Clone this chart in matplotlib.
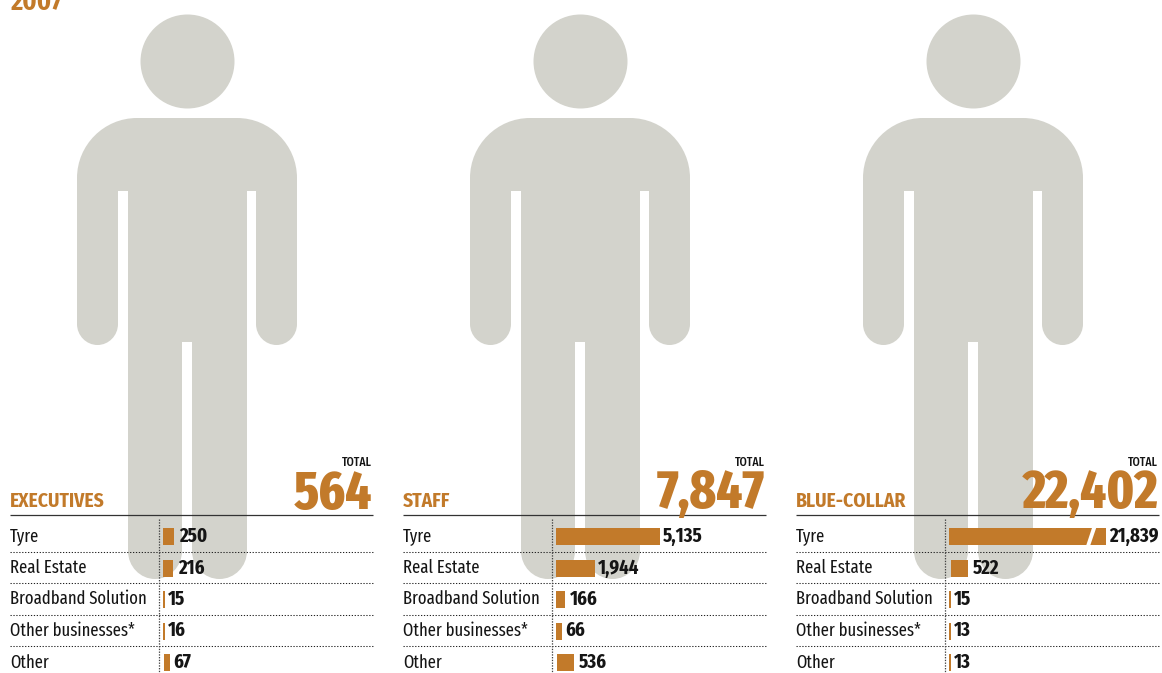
"""Workforce by business line, 2007: three silhouettes with row bars below."""

from __future__ import annotations

import logging

import matplotlib

matplotlib.use("Agg")

import matplotlib.pyplot as plt
import numpy as np
from matplotlib.patches import Circle, PathPatch, Polygon
from matplotlib.path import Path
from matplotlib.transforms import ScaledTranslation

logging.getLogger("matplotlib.font_manager").setLevel(logging.ERROR)

ORANGE = "#C27A2A"
FIGURE_GREY = "#D3D3CC"
INK = "#151515"
FONT = ["Fira Sans Condensed", "Liberation Sans", "DejaVu Sans"]
FONT_NARROW = ["Fira Sans Extra Condensed", "Fira Sans Condensed", "Liberation Sans", "DejaVu Sans"]

YEAR = "2007"
ROW_LABELS = ["Tyre", "Real Estate", "Broadband Solution", "Other businesses*", "Other"]
PANEL_NAMES = ["EXECUTIVES", "STAFF", "BLUE-COLLAR"]
PANEL_TOTALS = ["564", "7,847", "22,402"]
EXECUTIVES = [250, 216, 15, 16, 67]
STAFF = [5135, 1944, 166, 66, 536]
BLUE_COLLAR = [21839, 522, 15, 13, 13]

# Bar length is compressed, not proportional: value -> pixels.
SCALE_VALUES = [0, 15, 66, 166, 250, 536, 1944, 5135, 21839]
SCALE_PIXELS = [0, 2, 6, 9, 11, 17, 39, 104, 157]

W, H = 1162, 673
PANEL_STEP = 393
ROW_TOP = 536.5
ROW_STEP = 31.5

# Small hand shifts of individual bars, (panel, row) -> pixels.
BAR_NUDGE = {(0, 4): 1, (1, 4): 1, (2, 1): 2}


def forward(v):
    return np.interp(v, SCALE_VALUES, SCALE_PIXELS)


def inverse(p):
    return np.interp(p, SCALE_PIXELS, SCALE_VALUES)


def person_path(dx: float) -> Path:
    """Body outline, arms and legs as one closed path (head is separate)."""
    k = 0.45
    pts = [
        (Path.MOVETO, (137, 118)),
        (Path.LINETO, (237, 118)),
    ]

    def corner(p1, p2, p3):
        # Rounded corner from the current point, p2 being the sharp vertex.
        c1 = (p1[0] + (p2[0] - p1[0]) * (1 - k), p1[1] + (p2[1] - p1[1]) * (1 - k))
        c2 = (p3[0] + (p2[0] - p3[0]) * (1 - k), p3[1] + (p2[1] - p3[1]) * (1 - k))
        pts.extend([(Path.CURVE4, c1), (Path.CURVE4, c2), (Path.CURVE4, p3)])

    corner((237, 118), (297, 118), (297, 178))
    pts.append((Path.LINETO, (297, 324)))
    corner((297, 324), (297, 345), (276.5, 345))
    corner((276.5, 345), (256, 345), (256, 324))
    pts.append((Path.LINETO, (256, 191)))
    pts.append((Path.LINETO, (247, 191)))
    pts.append((Path.LINETO, (247, 551)))
    corner((247, 551), (247, 579), (219.5, 579))
    corner((219.5, 579), (192, 579), (192, 551))
    pts.append((Path.LINETO, (192, 342)))
    pts.append((Path.LINETO, (182, 342)))
    pts.append((Path.LINETO, (182, 551)))
    corner((182, 551), (182, 579), (155, 579))
    corner((155, 579), (128, 579), (128, 551))
    pts.append((Path.LINETO, (128, 191)))
    pts.append((Path.LINETO, (118, 191)))
    pts.append((Path.LINETO, (118, 324)))
    corner((118, 324), (118, 345), (97.5, 345))
    corner((97.5, 345), (77, 345), (77, 324))
    pts.append((Path.LINETO, (77, 178)))
    corner((77, 178), (77, 118), (137, 118))
    pts.append((Path.CLOSEPOLY, (137, 118)))
    codes, verts = zip(*pts)
    return Path([(x + dx, y) for x, y in verts], codes)


def pixel_axes(fig, zorder):
    ax = fig.add_axes([0, 0, 1, 1], zorder=zorder)
    ax.set_xlim(0, W)
    ax.set_ylim(H, 0)
    ax.axis("off")
    return ax


def main() -> int:
    fig = plt.figure(figsize=(W / 100, H / 100), dpi=100, facecolor="white")
    ax_back = pixel_axes(fig, 0)
    ax_top = pixel_axes(fig, 2)

    ax_top.text(10, 10, YEAR, color=ORANGE, fontsize=19, fontweight="bold", family=FONT)

    panels = [EXECUTIVES, STAFF, BLUE_COLLAR]
    for i, values in enumerate(panels):
        dx = i * PANEL_STEP

        ax_back.add_patch(Circle((187.5 + dx, 61.5), 47, color=FIGURE_GREY, lw=0))
        ax_back.add_patch(PathPatch(person_path(dx), facecolor=FIGURE_GREY, lw=0))

        # Bars live on their own axes so the compressed x scale applies.
        origin = 163 + dx
        ax = fig.add_axes(
            [origin / W, 1 - (ROW_TOP + 4.5 * ROW_STEP) / H, 157 / W, 5 * ROW_STEP / H],
            zorder=1,
        )
        ax.patch.set_alpha(0)
        ax.set_xscale("function", functions=(forward, inverse))
        ax.set_xlim(0, SCALE_VALUES[-1])
        ax.set_ylim(4.5, -0.5)
        ax.axis("off")
        bars = ax.barh(range(len(values)), values, height=17 / ROW_STEP, color=ORANGE, lw=0)
        for row, (bar, value) in enumerate(zip(bars, values)):
            nudge = BAR_NUDGE.get((i, row), 0)
            if nudge:
                bar.set_transform(
                    ax.transData + ScaledTranslation(nudge / 100, 0, fig.dpi_scale_trans)
                )
            gap = (3 if value < 100 or value > 1000 else 5) + nudge
            ax.annotate(
                f"{value:,}",
                (value, row),
                xytext=(gap * 0.72, -5.5 * 0.72),
                textcoords="offset points",
                annotation_clip=False,
                color=INK,
                fontsize=14.6,
                fontweight="bold",
                family=FONT_NARROW,
                ha="left",
                va="baseline",
                zorder=5,
            )

        # Header block
        ax_top.text(10 + dx, 507, PANEL_NAMES[i], color=ORANGE, fontsize=14,
                    fontweight="bold", family=FONT)
        ax_top.text(372 + dx, 466, "TOTAL", color=INK, fontsize=9, fontweight=500,
                    ha="right", family=FONT_NARROW)
        ax_top.text(372 + dx, 508.5, PANEL_TOTALS[i], color=ORANGE, fontsize=39,
                    fontweight=800, ha="right", family=FONT_NARROW)
        ax_top.plot([10 + dx, 372.5 + dx], [515.2, 515.2], color="#333333", lw=0.9,
                    solid_capstyle="butt")

        # Rows and dotted separators
        for row, label in enumerate(ROW_LABELS):
            y = ROW_TOP + row * ROW_STEP
            ax_top.text(10 + dx, y + 5, label, color=INK, fontsize=13, family=FONT_NARROW)
            if row < len(ROW_LABELS) - 1:
                ax_top.plot([10 + dx, 374 + dx], [y + 15.3, y + 15.3], color="#222222",
                            lw=0.75, linestyle=(0, (1.2, 1.6)))
        ax_top.plot([158.7 + dx, 158.7 + dx], [519, H], color="#444444", lw=0.9,
                    linestyle=(0, (1.1, 1.1)))

    # Axis break across the longest bar
    top, bottom = ROW_TOP - 9.5, ROW_TOP + 9.5
    ax_top.add_patch(
        Polygon(
            [(1092.3, top), (1096.5, top), (1090, bottom), (1086, bottom)],
            facecolor="white",
            lw=0,
        )
    )

    fig.savefig("out.png", dpi=100, facecolor="white")
    plt.close(fig)
    return 0


if __name__ == "__main__":
    raise SystemExit(main())
